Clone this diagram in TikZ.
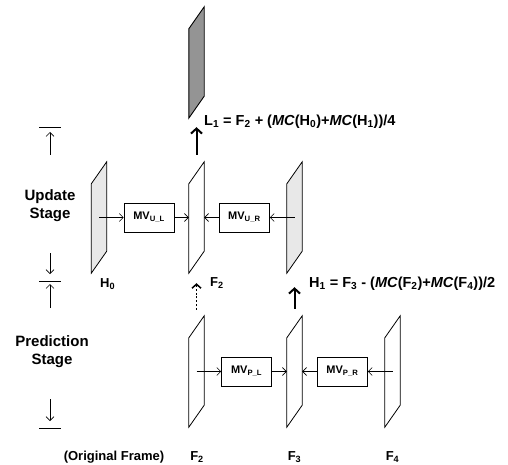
\documentclass[tikz,border=0pt]{standalone}
\usepackage{fontspec}
\setmainfont{Liberation Sans}
\usepackage{tikz}
\usetikzlibrary{arrows.meta, positioning}
\definecolor{hfill}{gray}{0.91}
\definecolor{lfill}{gray}{0.58}

% slanted frame drawn over an invisible node
\newcommand{\vidframe}[2]{%
  \draw[#2] (#1.south west) -- ([yshift=-22pt]#1.north west) -- (#1.north east)
    -- ([yshift=22pt]#1.south east) -- cycle;}

\begin{document}
\begin{tikzpicture}[
    x=1pt, y=-1pt,
    frm/.style={minimum width=15pt, minimum height=111pt, inner sep=0pt},
    mv/.style={draw, line width=0.8pt, minimum width=50pt, minimum height=29pt, inner sep=0pt,
               font=\fontsize{11}{13}\selectfont\bfseries},
    lbl/.style={font=\fontsize{13}{15}\selectfont\bfseries, inner sep=0pt},
    eqn/.style={font=\fontsize{14.5}{17}\selectfont\bfseries, inner sep=0pt, anchor=west},
    stg/.style={font=\fontsize{15}{18}\selectfont\bfseries, align=center, inner sep=0pt},
    arr/.style={-{Straight Barb[length=4pt, width=8pt]}, line width=0.6pt},
    thk/.style={-{Straight Barb[length=5pt, width=11pt]}, line width=2pt},
]
\useasboundingbox (0,0) rectangle (508,465);

% frames
\node[frm] (l1) at (196.5,62.5) {};
\node[frm] (h0) at (99,217.5) {};
\node[frm] (f2u) at (196.5,217.5) {};
\node[frm] (h1) at (294.5,217.5) {};
\node[frm] (f2l) at (196.5,371.5) {};
\node[frm] (f3) at (294.5,371.5) {};
\node[frm] (f4) at (392.5,371.5) {};
\vidframe{l1}{fill=lfill, line width=0.9pt}
\vidframe{h0}{fill=hfill, line width=0.8pt}
\vidframe{f2u}{line width=0.8pt}
\vidframe{h1}{fill=hfill, line width=0.8pt}
\vidframe{f2l}{line width=0.8pt}
\vidframe{f3}{line width=0.8pt}
\vidframe{f4}{line width=0.8pt}

% motion vectors
\node[mv, right=17pt of h0] (mvul) {MV\textsubscript{U\_L}};
\node[mv, left=17pt of h1] (mvur) {MV\textsubscript{U\_R}};
\node[mv, right=17pt of f2l] (mvpl) {MV\textsubscript{P\_L}};
\node[mv, left=17pt of f4] (mvpr) {MV\textsubscript{P\_R}};

\draw[arr] (h0.center) -- (mvul);
\draw[arr] (mvul) -- (f2u.west);
\draw[arr] (h1.center) -- (mvur);
\draw[arr] (mvur) -- (f2u.east);
\draw[arr] (f2l.center) -- (mvpl);
\draw[arr] (mvpl) -- (f3.west);
\draw[arr] (f4.center) -- (mvpr);
\draw[arr] (mvpr) -- (f3.east);

% outputs
\draw[thk, shorten <=7pt, shorten >=9pt] (f2u.north) -- (l1.south);
\draw[thk, shorten <=7pt, shorten >=14pt] (f3.north) -- (h1.south);
\draw[-{Straight Barb[length=4pt, width=9pt]}, line width=1.5pt, dash pattern=on 2pt off 1.8pt,
      shorten <=6pt, shorten >=10pt] (f2l.north) -- (f2u.south);

% labels
\node[eqn] (l1eq) at (204,122)
  {L\textsubscript{1} = F\textsubscript{2} + (\textit{MC}(H\textsubscript{0})+\textit{MC}(H\textsubscript{1}))/4};
\node[eqn] (h1eq) at (309,284)
  {H\textsubscript{1} = F\textsubscript{3} - (\textit{MC}(F\textsubscript{2})+\textit{MC}(F\textsubscript{4}))/2};
\node[lbl, anchor=west] (h0lbl) at (100,284) {H\textsubscript{0}};
\node[lbl, anchor=west] (f2ulbl) at (210,283) {F\textsubscript{2}};
\node[lbl] (orig) at (114,457) {(Original Frame)};
\node[lbl] (f2lbl) at (197,457) {F\textsubscript{2}};
\node[lbl] (f3lbl) at (294.5,457) {F\textsubscript{3}};
\node[lbl] (f4lbl) at (392.5,457) {F\textsubscript{4}};

% stages
\node[stg] (upd) at (50,206) {Update\\Stage};
\node[stg] (pred) at (52,352) {Prediction\\Stage};

\coordinate (ubar) at (50,127);
\coordinate (mbar) at (50,281);
\coordinate (pbar) at (50,428);
\coordinate (ua) at (50,155);
\coordinate (ud) at (50,253);
\coordinate (pu) at (50,308);
\coordinate (pd) at (50,399);
\draw[line width=0.7pt] (ubar) +(-11,0) -- +(11,0);
\draw[line width=0.7pt] (mbar) +(-11,0) -- +(11,0);
\draw[line width=0.7pt] (pbar) +(-11,0) -- +(11,0);
\draw[arr, shorten >=5pt] (ua) -- (ubar);
\draw[arr, shorten >=7pt] (ud) -- (mbar);
\draw[arr, shorten >=3pt] (pu) -- (mbar);
\draw[arr, shorten >=7pt] (pd) -- (pbar);
\end{tikzpicture}
\end{document}
